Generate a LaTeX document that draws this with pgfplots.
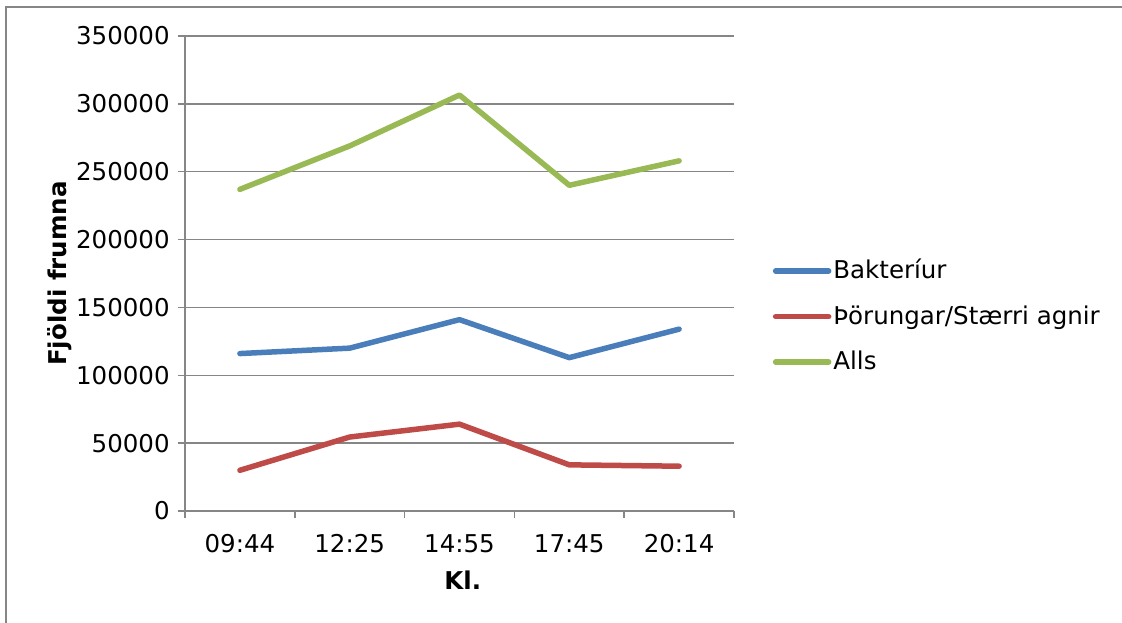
\documentclass[border=0pt]{standalone}
\usepackage{fontspec}
\setmainfont{DejaVu Sans}
\usepackage{pgfplots}
\pgfplotsset{compat=1.18}
\definecolor{cblue}{HTML}{4A7EBB}
\definecolor{cred}{HTML}{BE4B48}
\definecolor{cgreen}{HTML}{98B954}
\definecolor{cgrid}{HTML}{868686}
\begin{document}
\fontsize{24.5}{29}\selectfont
\begin{tikzpicture}[x=1pt,y=1pt]
\useasboundingbox (-185,-112) rectangle (937,511);
\draw[cgrid,line width=2pt] (-179,-112) -- (-179,504) -- (937,504);
\begin{axis}[at={(0,0)},anchor=south west, scale only axis,
  width=549pt,height=475pt,
  xmin=-0.5,xmax=4.5,ymin=0,ymax=350000,
  xtick={0,1,2,3,4}, xticklabels={09:44,12:25,14:55,17:45,20:14},
  minor xtick={-0.5,0.5,1.5,2.5,3.5,4.5},
  ytick={0,50000,100000,150000,200000,250000,300000,350000},
  yticklabels={0,50000,100000,150000,200000,250000,300000,350000},
  scaled y ticks=false,
  axis x line*=bottom, axis y line*=left,
  axis line style={cgrid,line width=1.5pt},
  ymajorgrids, grid style={cgrid,line width=1.5pt},
  tick align=outside, major tick length=7pt, minor tick length=7pt,
  major x tick style={draw=none},
  minor x tick style={cgrid,line width=1.5pt},
  y tick style={cgrid,line width=1.5pt},
  ticklabel style={font=\fontsize{24.5}{29}\selectfont},
  xticklabel style={yshift=-8pt},
  /pgf/number format/assume math mode=true,
  xlabel={\textbf{Kl.}}, ylabel={\textbf{Fjöldi frumna}},
  label style={font=\fontsize{24.5}{29}\selectfont},
  xlabel style={at={(axis description cs:0.506,-0.145)},anchor=center},
  ylabel style={at={(axis description cs:-0.228,0.5)},anchor=center,rotate=0},
  legend style={at={(axis description cs:1.065,0.41)},anchor=west,draw=none,fill=none,
    font=\fontsize{24.5}{29}\selectfont,row sep=19pt},
  legend cell align=left,
  legend image code/.code={\draw[#1] (0pt,0pt) -- (53pt,0pt);},
  every axis plot/.append style={line width=5.5pt,line cap=round,line join=round},
]
\addplot[cblue] coordinates {(0,116000) (1,120000) (2,141000) (3,113000) (4,134000)};
\addlegendentry{Bakteríur}
\addplot[cred] coordinates {(0,30000) (1,54500) (2,64000) (3,34000) (4,33000)};
\addlegendentry{Þörungar/Stærri agnir}
\addplot[cgreen] coordinates {(0,237000) (1,269000) (2,306500) (3,240000) (4,258000)};
\addlegendentry{Alls}
\end{axis}
\end{tikzpicture}
\end{document}
